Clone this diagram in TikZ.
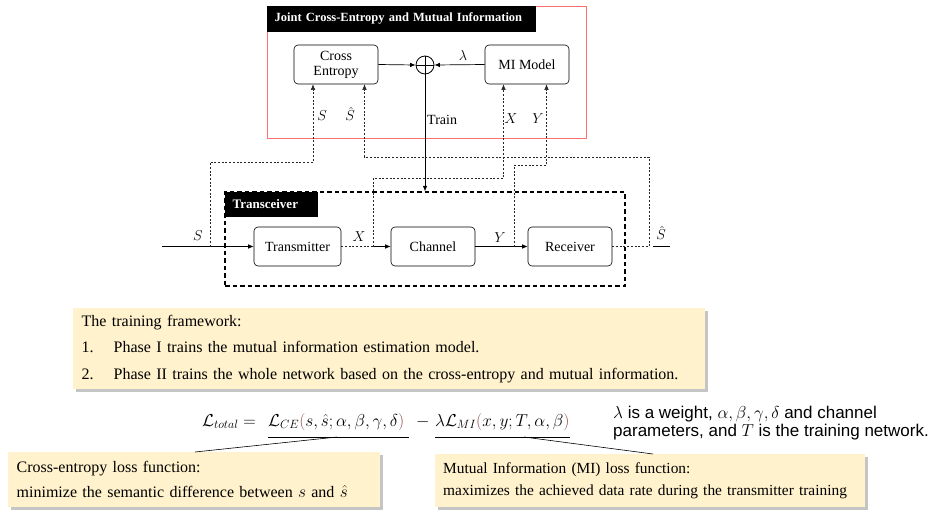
\documentclass[tikz,border=0pt]{standalone}
\usepackage{fontspec}
\setmainfont{Liberation Serif}
\newfontfamily\notesans{Liberation Sans}
\usetikzlibrary{arrows.meta,shadows,calc}
\definecolor{boxyellow}{RGB}{255,242,204}
\definecolor{redframe}{RGB}{255,112,112}
\definecolor{parcol}{RGB}{140,75,75}
\begin{document}
\begin{tikzpicture}[x=1pt,y=-1pt,
  blk/.style={draw, rounded corners=4pt, line width=0.6pt, minimum width=84pt, minimum height=39pt,
    font=\fontsize{14}{16}\selectfont, align=center, inner sep=1pt},
  sol/.style={line width=0.7pt},
  fb/.style={line width=0.55pt, dash pattern=on 2pt off 1.7pt, black!85},
  arr/.style={-{Latex[length=5.5pt,width=4.5pt]}},
  lbl/.style={font=\fontsize{14}{16}\selectfont, inner sep=0},
  tag/.style={fill=black, text=white, font=\bfseries\fontsize{12.5}{15}\selectfont, anchor=north west,
    inner xsep=8pt, inner ysep=0pt, align=left},
  ybox/.style={fill=boxyellow, anchor=north west, align=left, inner xsep=8.5pt, inner ysep=0pt,
    drop shadow={shadow xshift=2.5pt, shadow yshift=-2.5pt, fill=black!45}},
  eq/.style={font=\fontsize{17}{20}\selectfont, inner sep=0, anchor=base west}
]
\useasboundingbox (0,0) rectangle (933,520);

% ---------- Joint CE and MI frame ----------
\node[draw=redframe, line width=1pt, minimum width=319pt, minimum height=132pt, inner sep=0] (jbox) at (426.5,72) {};
\node[tag, minimum width=269pt, minimum height=26pt, text width=253pt] (jtag) at (jbox.north west) {Joint Cross-Entropy and Mutual Information};

\node[blk] (ce) at (336,64.5) {Cross\\[-1pt]Entropy};
\node[blk] (mi) at (527,64.5) {MI Model};
\node[circle, draw, line width=0.8pt, minimum size=18pt, inner sep=0] (plus) at (425,65) {};
\draw[line width=0.8pt] (plus.north) -- (plus.south) (plus.west) -- (plus.east);
\draw[sol,arr] (ce.east) -- (plus.west);
\draw[sol,arr] (mi.west) -- (plus.east);
\node[lbl] (lam) at (463,55) {$\lambda$};

% ---------- Transceiver ----------
\node[draw, line width=1.3pt, dash pattern=on 4.5pt off 3pt, minimum width=400pt, minimum height=94pt, inner sep=0] (trx) at (425,239) {};
\node[tag, minimum width=93pt, minimum height=25pt, text width=77pt, font=\bfseries\fontsize{13}{15}\selectfont] (ttag) at (trx.north west) {Transceiver};

\node[blk, minimum width=87pt] (tx) at (297.5,246.5) {Transmitter};
\node[blk] (ch) at (433,246.5) {Channel};
\node[blk] (rx) at (570,246.5) {Receiver};

\draw[sol,arr] (plus.south) -- (trx.north);
\node[lbl, anchor=west] (train) at (427,120) {Train};

% signal path
\coordinate (in) at (162,246.5);
\coordinate (sj) at (210,246.5);
\coordinate (xj) at (373,246.5);
\coordinate (yj) at (514,246.5);
\coordinate (outj) at (649,246.5);
\coordinate (o1) at (653,246.5);
\coordinate (o2) at (670,246.5);
\draw[sol,arr] (in) -- (tx.west);
\draw[sol,arr] (xj) -- (ch.west);
\draw[sol,arr] (ch.east) -- (rx.west);
\draw[sol] (o1) -- (o2);

\node[lbl] (sl) at (198,236) {$S$};
\node[lbl] (xl) at (359,237) {$X$};
\node[lbl] (yl) at (500,238) {$Y$};
\node[lbl] (shl) at (661,233) {$\hat{S}$};

% feedback (dashed) paths
\coordinate (sin) at (313,162);
\coordinate (shin) at (364.5,157);
\coordinate (xin) at (503.5,178);
\coordinate (yin) at (546.5,165);
\draw[fb,arr] (sj) |- (sin) -- (ce.south -| sin);
\draw[fb,arr] (rx.east) -- (outj) |- (shin) -- (ce.south -| shin);
\draw[fb] (tx.east) -- (xj);
\draw[fb,arr] (xj) |- (xin) -- (mi.south -| xin);
\draw[fb,arr] (yj) |- (yin) -- (mi.south -| yin);

\node[lbl] (s2) at (322,116) {$S$};
\node[lbl] (sh2) at (350,114) {$\hat{S}$};
\node[lbl] (x2) at (511,119) {$X$};
\node[lbl] (y2) at (538,119) {$Y$};

% ---------- training framework ----------
\node[ybox, minimum width=632pt, minimum height=81pt, text width=615pt, font=\fontsize{16}{26.5}\selectfont] (tf) at (73,308)
 {The training framework:\\
  \makebox[32pt][l]{1.}Phase I trains the mutual information estimation model.\\
  \makebox[32pt][l]{2.}Phase II trains the whole network based on the cross-entropy and mutual information.};

% ---------- equation ----------
\node[eq] (eqtot) at (202,426) {$\mathcal{L}_{total} =$};
\node[eq] (eqce) at (268,426) {$\mathcal{L}_{CE}\textcolor{parcol}{(}s,\hat{s};\alpha,\beta,\gamma,\delta\textcolor{parcol}{)}$};
\node[eq] (eqm) at (416,426) {$-$};
\node[eq] (eqmi) at (435,426) {$\lambda\mathcal{L}_{MI}\textcolor{parcol}{(}x,y;T,\alpha,\beta\textcolor{parcol}{)}$};
\draw[line width=0.6pt] ([yshift=-11pt]eqce.base west) -- ([yshift=-11pt,xshift=5pt]eqce.base east);
\draw[line width=0.6pt] ([yshift=-11pt]eqmi.base west) -- ([yshift=-11pt]eqmi.base east);

\node[anchor=west, align=left, inner sep=0, font=\notesans\fontsize{17}{18.5}\selectfont] (note) at (613,423)
 {$\lambda$ is a weight, $\alpha,\beta,\gamma,\delta$ and channel\\parameters, and $T$ is the training network.};

% ---------- callouts ----------
\node[ybox, minimum width=372pt, minimum height=55pt, text width=355pt, font=\fontsize{16}{25}\selectfont] (cebox) at (8,452)
 {Cross-entropy loss function:\\minimize the semantic difference between $s$ and $\hat{s}$};
\node[ybox, minimum width=430pt, minimum height=53pt, text width=414pt, inner xsep=8pt, font=\fontsize{15.4}{21.5}\selectfont] (mibox) at (435,454)
 {Mutual Information (MI) loss function:\\maximizes the achieved data rate during the transmitter training};

\coordinate (c1) at (337,437);
\coordinate (c2) at (524,437);
\draw[line width=0.6pt] (c1) -- (cebox.north west -| 195,0);
\draw[line width=0.6pt] (c2) -- (mibox.north west -| 653,0);
\end{tikzpicture}
\end{document}
